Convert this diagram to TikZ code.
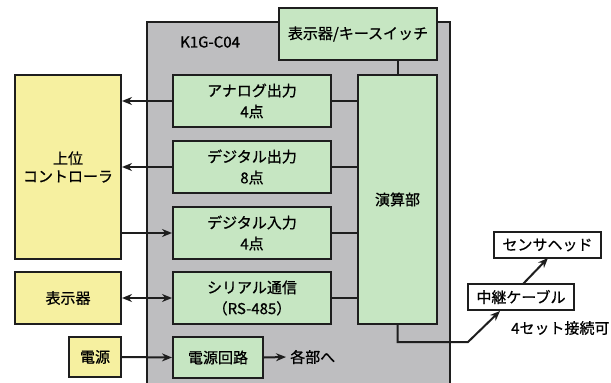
\documentclass[tikz,border=0pt]{standalone}
\usepackage{fontspec}
\setmainfont{Noto Sans CJK JP}[RawFeature={embolden=0.7}]
\usetikzlibrary{arrows.meta}
\definecolor{boxgray}{RGB}{190,190,192}
\definecolor{boxgreen}{RGB}{198,230,194}
\definecolor{boxyellow}{RGB}{246,240,160}
\definecolor{edge}{RGB}{30,30,30}
\begin{document}
\begin{tikzpicture}[x=1pt,y=-1pt,
  txt/.style={font=\fontsize{15}{21}\selectfont},
  gbox/.style={txt,draw=edge,line width=2pt,fill=boxgreen,inner sep=0pt,align=center},
  ybox/.style={txt,draw=edge,line width=2pt,fill=boxyellow,inner sep=0pt,align=center},
  wbox/.style={txt,draw=edge,line width=2pt,fill=white,inner sep=0pt,align=center},
  conn/.style={line width=2pt,draw=edge},
  arr/.style={conn,-{Stealth[length=10pt,width=8pt]}},
  darr/.style={conn,{Stealth[length=10pt,width=8pt]}-{Stealth[length=10pt,width=8pt]}},
  lbl/.style={txt,inner sep=0pt}]
\useasboundingbox (0,0) rectangle (611,383);
\clip (0,0) rectangle (611,383);
\fill[white] (0,0) rectangle (611,383);
% gray module
\draw[edge,line width=2pt,fill=boxgray] (147,22) rectangle (450,400);
\node[lbl,anchor=west] (model) at (180,42) {K1G-C04};
% green boxes
\node[gbox,minimum width=158pt,minimum height=52pt] (disp) at (358,34) {表示器/キースイッチ};
\node[gbox,minimum width=158pt,minimum height=52pt] (analog) at (252,101) {アナログ出力\\4点};
\node[gbox,minimum width=158pt,minimum height=52pt] (dout) at (252,167) {デジタル出力\\8点};
\node[gbox,minimum width=158pt,minimum height=52pt] (din) at (252,233) {デジタル入力\\4点};
\node[gbox,minimum width=158pt,minimum height=52pt] (serial) at (252,298) {シリアル通信\\（RS-485）};
\node[gbox,minimum width=90pt,minimum height=41pt] (power) at (218,357.5) {電源回路};
\node[gbox,minimum width=79pt,minimum height=249pt] (cpu) at (397.5,199.5) {演算部};
% yellow boxes
\node[ybox,minimum width=106pt,minimum height=184pt,font=\fontsize{15}{18}\selectfont] (host) at (68,167) {上位\\コントローラ};
\node[ybox,minimum width=106pt,minimum height=52pt] (ydisp) at (68,298) {表示器};
\node[ybox,minimum width=52pt,minimum height=40pt] (ypow) at (95,357) {電源};
% white boxes
\node[wbox,minimum width=106pt,minimum height=26pt] (relay) at (521,297) {中継ケーブル};
\node[wbox,minimum width=107pt,minimum height=26pt] (head) at (547.5,245) {センサヘッド};
\node[lbl,anchor=west] (four) at (511,328) {4セット接続可};
\node[lbl,anchor=west] (each) at (290,357) {各部へ};
% internal connectors
\draw[conn] (disp.south -| cpu) -- (cpu.north);
\draw[conn] (analog.east) -- (analog.east -| cpu.west);
\draw[conn] (dout.east) -- (dout.east -| cpu.west);
\draw[conn] (din.east) -- (din.east -| cpu.west);
\draw[conn] (serial.east) -- (serial.east -| cpu.west);
% external
\draw[arr] (analog.west) -- (analog.west -| host.east);
\draw[arr] (dout.west) -- (dout.west -| host.east);
\draw[arr] (din.west -| host.east) -- (din.west);
\draw[darr] (ydisp.east) -- (serial.west);
\draw[arr] (ypow.east) -- (power.west);
\draw[arr] (power.east) -- ([xshift=-4pt]each.west);
\coordinate (bend) at (468,342);
\coordinate (rtip) at (500,311);
\draw[arr] (cpu.south) -- (cpu.south |- bend) -- (bend) -- (rtip);
\coordinate (hs) at (523,284);
\coordinate (ht) at (548,258);
\draw[arr] (hs) -- (ht);
\end{tikzpicture}
\end{document}
